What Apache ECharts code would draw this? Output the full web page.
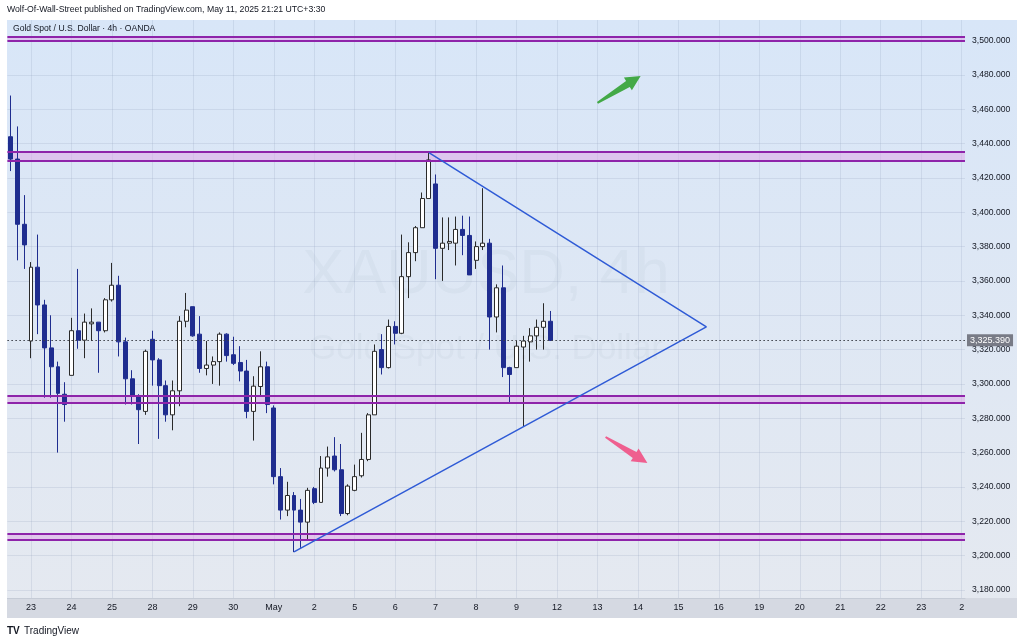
<!DOCTYPE html>
<html><head><meta charset="utf-8">
<script src="https://cdn.jsdelivr.net/npm/echarts@6/dist/echarts.min.js"></script>
<style>html,body{margin:0;padding:0;background:#fff;}#c{width:1024px;height:643px;}</style>
</head><body><div id="c"></div>
<script>
// ---- data ----
const dayLabels = ['22','23','24','25','28','29','30','May','2','5','6','7','8','9','12','13','14','15','16','19','20','21','22','23','2'];
const barsPerDay = 6;
const firstDayBars = 3;   // only the last 3 bars of the first day are visible
const lastDayBars = 1;
const opens  = [3444,3431,3393,3325,3368,3346,3321,3310,3294,3305,3331,3325.5,3335,3336,3331,3349,3357.5,3324.5,3303,3293,3284,3326,3314,3299,3282,3296,3336.5,3345,3329,3309,3311,3313,3329,3317,3312.5,3307.5,3284,3298.5,3310,3286,3246,3226.5,3235,3226.5,3219.5,3239,3231,3251,3258,3250,3224.5,3238,3246.5,3256,3282,3320,3309.5,3333.5,3329.5,3362.5,3376.5,3391,3408,3416.5,3379,3382,3382,3390,3386.5,3372,3380,3382,3339,3356,3309.5,3309.5,3321.5,3324.5,3328,3333,3336.5];
const closes = [3431,3393,3381,3368,3346,3321,3310,3294.5,3288,3331,3325.5,3336,3336,3331,3349,3357.5,3324.5,3303,3293,3285,3319,3314,3299,3282,3296,3336.5,3343,3328,3309,3311,3313,3329,3316.5,3312,3307.5,3284,3298.7,3310,3288,3246,3226.5,3235,3226.5,3219.5,3238,3231,3251,3257.5,3250,3224.5,3240.5,3246,3256,3282,3319,3309.5,3333.5,3329.5,3362.5,3376.5,3391,3408,3430.5,3379,3382,3383,3390,3386.5,3363.5,3380,3382,3339,3356,3309.5,3305.5,3322,3325,3328,3333,3336.5,3325.39];
const lows   = [3424,3372,3367,3315,3329,3292,3292,3260,3278,3305,3320.5,3315,3325,3306.5,3330,3348,3316,3288,3288,3265,3282,3299,3268,3278,3273,3287,3333,3327.5,3306.5,3305,3300,3299,3313,3311,3301.5,3280,3267,3293,3283,3241.5,3221,3223,3202,3204.5,3209.5,3230,3231,3246,3249,3223,3223.5,3237.5,3245.5,3255,3282,3305.5,3309,3323,3329,3350,3371.5,3391,3408,3361,3360,3378,3369,3375,3363.5,3367,3378,3320,3330,3304,3289,3309.5,3275.5,3313,3320,3320,3325];
const highs  = [3468,3450,3410,3371,3387,3349,3340,3313,3301,3338.5,3367,3341,3344,3336,3350,3370.5,3363,3327,3308,3294,3320,3331,3315,3302,3302,3339.5,3353,3345,3339.5,3325,3316,3330,3329.5,3327.5,3322,3314,3304.5,3319,3313,3287.5,3251,3243,3237,3233,3239.5,3240,3258,3263.5,3269,3265,3241.5,3253,3271.5,3283,3323,3329,3337.5,3336.5,3387,3382.5,3392,3411.5,3435,3422,3397,3397,3397.5,3398,3397.5,3383,3414,3384.5,3358,3369,3310,3325,3328,3332.5,3337.5,3347,3342.5];
const priceTicks = [3180,3200,3220,3240,3260,3280,3300,3320,3340,3360,3380,3400,3420,3440,3460,3480,3500];
const lastPrice = 3325.39;
const zones = [[3500.0,3502.3],[3430.2,3435.4],[3289.1,3292.9],[3209.1,3213.0]];
const triangle = [[42,3202.2],[103.15,3333.2],[62,3434.8]];
const upArrow = [87.0,3463.7,93.4,3479.4];
const downArrow = [88.2,3269.1,94.4,3254.0];
const headerText = 'Wolf-Of-Wall-Street published on TradingView.com, May 11, 2025 21:21 UTC+3:30';
const legendText = 'Gold Spot / U.S. Dollar \u00b7 4h \u00b7 OANDA';
const watermark = 'XAUUSD, 4h';
const watermarkSub = 'Gold Spot / U.S. Dollar';

// ---- build ----
const categories = [];
dayLabels.forEach((d, i) => {
  const start = i === 0 ? barsPerDay - firstDayBars : 0;
  const end = i === dayLabels.length - 1 ? lastDayBars : barsPerDay;
  for (let s = start; s < end; s++) categories.push(d + '|' + s);
});
const candles = opens.map((o, i) => [o, closes[i], lows[i], highs[i]]);
const isDayStart = (v) => typeof v === 'string' && v.endsWith('|0');
const FONT = '"Liberation Sans", Arial, sans-serif';
const fmt3 = (v) => v.toLocaleString('en-US', {minimumFractionDigits: 3, maximumFractionDigits: 3});

const chart = echarts.init(document.getElementById('c'), null, {renderer: 'canvas'});
const option = {
  animation: false,
  backgroundColor: '#ffffff',
  textStyle: {fontFamily: FONT},
  grid: {left: 7.4, right: 59, top: 20, bottom: 45},
  graphic: [
    {type: 'rect', z: -20, silent: true, shape: {x: 7, y: 20, width: 1010, height: 598},
     style: {fill: new echarts.graphic.LinearGradient(0, 0, 0, 1, [{offset: 0, color: '#d8e6f8'}, {offset: 1, color: '#e5e9f0'}])}},
    {type: 'rect', z: -19, silent: true, shape: {x: 7, y: 598, width: 1010, height: 20}, style: {fill: '#d5d9e2'}},
    {type: 'text', z: -15, silent: true, style: {text: watermark, x: 486, y: 276, align: 'center', verticalAlign: 'middle', font: '63px ' + FONT, fill: 'rgba(100,110,135,0.05)'}},
    {type: 'text', z: -15, silent: true, style: {text: watermarkSub, x: 486, y: 349, align: 'center', verticalAlign: 'middle', font: '35px ' + FONT, fill: 'rgba(100,110,135,0.05)'}},
    {type: 'text', silent: true, style: {text: headerText, x: 7, y: 10, verticalAlign: 'middle', font: '8.7px ' + FONT, fill: '#131722'}},
    {type: 'text', silent: true, style: {text: legendText, x: 13, y: 29, verticalAlign: 'middle', font: '8.6px ' + FONT, fill: '#131722'}},
    {type: 'text', silent: true, style: {text: 'TV', x: 7, y: 631, verticalAlign: 'middle', font: 'bold 10px ' + FONT, fill: '#131722'}},
    {type: 'text', silent: true, style: {text: 'TradingView', x: 24, y: 631, verticalAlign: 'middle', font: '10px ' + FONT, fill: '#131722'}}
  ],
  xAxis: [
    {type: 'category', data: categories, boundaryGap: true,
     axisLine: {show: true, lineStyle: {color: '#c5cbd6'}},
     axisTick: {show: false},
     axisLabel: {interval: 0, margin: 5, color: '#131722', fontSize: 9, fontFamily: FONT,
       formatter: (v) => isDayStart(v) ? v.split('|')[0] : ''},
     splitLine: {show: true, interval: (idx, v) => isDayStart(v), alignWithLabel: true,
       lineStyle: {color: 'rgba(140,155,185,0.2)', width: 1}}},
    {type: 'value', min: -0.5, max: categories.length - 0.5, show: false}
  ],
  yAxis: {
    type: 'value', position: 'right', min: 3175.3, max: 3512, scale: true,
    axisLine: {show: false}, axisTick: {show: false, customValues: priceTicks},
    axisLabel: {customValues: priceTicks, margin: 7, color: '#131722', fontSize: 8.6, fontFamily: FONT, formatter: fmt3},
    splitLine: {show: true, lineStyle: {color: 'rgba(140,155,185,0.2)', width: 1}}
  },
  series: [
    {
      type: 'candlestick', xAxisIndex: 0, yAxisIndex: 0, data: candles, barWidth: '66%', z: 4,
      itemStyle: {color: '#ffffff', color0: '#1f2d8f', borderColor: '#2a2a2a', borderColor0: '#1f2d8f', borderWidth: 1},
      markArea: {silent: true, itemStyle: {color: 'rgba(222,170,232,0.55)'},
        data: zones.map(z => [{yAxis: z[0]}, {yAxis: z[1]}])},
      markLine: {silent: true, symbol: 'none', animation: false,
        data: [].concat(
          ...zones.map(z => [
            {yAxis: z[0], lineStyle: {color: '#8e24aa', width: 2, type: 'solid'}, label: {show: false}},
            {yAxis: z[1], lineStyle: {color: '#8e24aa', width: 2, type: 'solid'}, label: {show: false}}
          ]),
          [{yAxis: lastPrice, lineStyle: {color: '#3a3d46', width: 1, type: [1.5, 2.5]},
            label: {show: true, position: 'end', distance: 2, formatter: fmt3(lastPrice),
              color: '#ffffff', backgroundColor: '#787b86', padding: [2, 3, 1, 3], fontSize: 9, fontFamily: FONT}}]
        )}
    },
    {
      type: 'line', xAxisIndex: 1, yAxisIndex: 0, data: triangle, symbol: 'none', z: 6,
      lineStyle: {color: '#2f5bd6', width: 1.5}
    },
    {
      type: 'custom', xAxisIndex: 1, yAxisIndex: 0, z: 7,
      data: [upArrow, downArrow],
      encode: {x: [0, 2], y: [1, 3]},
      renderItem: (params, api) => {
        const s = api.coord([api.value(0), api.value(1)]);
        const e = api.coord([api.value(2), api.value(3)]);
        const dx = e[0] - s[0], dy = e[1] - s[1];
        const len = Math.sqrt(dx * dx + dy * dy);
        const ux = dx / len, uy = dy / len, nx = -uy, ny = ux;
        const headLen = 15, headW = 7.5, w0 = 1, w1 = 3.5;
        const bx = s[0] + ux * (len - headLen), by = s[1] + uy * (len - headLen);
        const pts = [
          [s[0] + nx * w0, s[1] + ny * w0],
          [bx + nx * w1, by + ny * w1],
          [bx + nx * headW, by + ny * headW],
          [e[0], e[1]],
          [bx - nx * headW, by - ny * headW],
          [bx - nx * w1, by - ny * w1],
          [s[0] - nx * w0, s[1] - ny * w0]
        ];
        return {type: 'polygon', shape: {points: pts},
          style: {fill: params.dataIndex === 0 ? '#43a947' : '#ef5f8f'}};
      }
    }
  ]
};
chart.setOption(option);
</script>
</body></html>
